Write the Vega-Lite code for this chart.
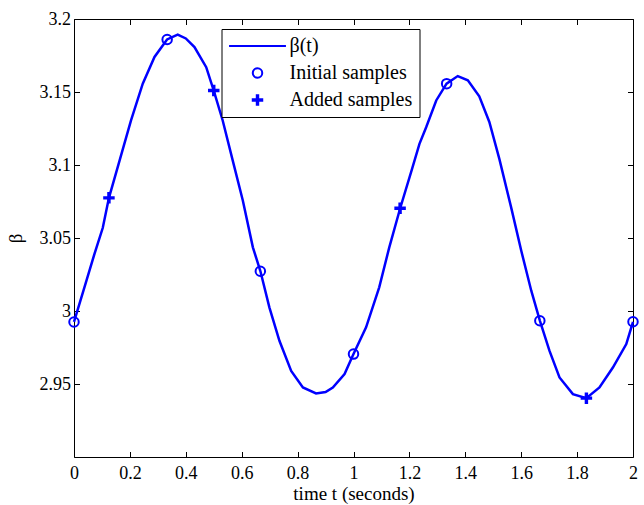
{
  "$schema": "https://vega.github.io/schema/vega-lite/v6.json",
  "width": 559,
  "height": 438,
  "autosize": {"type": "none"},
  "padding": {"left": 74, "top": 19, "right": 11, "bottom": 48},
  "background": "white",
  "config": {
    "view": {"stroke": "black", "strokeWidth": 1},
    "font": "Liberation Serif",
    "axis": {
      "domain": false,
      "grid": false,
      "tickColor": "black",
      "tickSize": -5.5,
      "tickWidth": 1,
      "labelColor": "black",
      "labelFont": "Liberation Serif",
      "labelFontSize": 18,
      "titleFont": "Liberation Serif",
      "titleFontSize": 19,
      "titleFontWeight": "normal",
      "titleColor": "black"
    },
    "legend": {
      "orient": "none",
      "legendX": 147.5,
      "legendY": 10,
      "padding": 7,
      "strokeColor": "black",
      "fillColor": "white",
      "cornerRadius": 0,
      "labelFont": "Liberation Serif",
      "labelFontSize": 20,
      "labelColor": "black",
      "symbolOffset": 19,
      "labelOffset": 22,
      "rowPadding": 7,
      "symbolStrokeWidth": 2,
      "symbolSize": 90
    }
  },
  "layer": [
    {
      "data": {
        "values": [
          {"t": 0, "beta": 2.9925},
          {"t": 0.037, "beta": 3.016},
          {"t": 0.073, "beta": 3.039},
          {"t": 0.103, "beta": 3.057},
          {"t": 0.125, "beta": 3.0775},
          {"t": 0.163, "beta": 3.103},
          {"t": 0.204, "beta": 3.1305},
          {"t": 0.246, "beta": 3.1557},
          {"t": 0.288, "beta": 3.174},
          {"t": 0.333, "beta": 3.186},
          {"t": 0.371, "beta": 3.1893},
          {"t": 0.4, "beta": 3.1867},
          {"t": 0.431, "beta": 3.1808},
          {"t": 0.473, "beta": 3.167},
          {"t": 0.5, "beta": 3.151},
          {"t": 0.532, "beta": 3.1305},
          {"t": 0.568, "beta": 3.103},
          {"t": 0.604, "beta": 3.0757},
          {"t": 0.64, "beta": 3.0436},
          {"t": 0.667, "beta": 3.0272},
          {"t": 0.699, "beta": 3.0025},
          {"t": 0.735, "beta": 2.9796},
          {"t": 0.777, "beta": 2.959},
          {"t": 0.819, "beta": 2.9476},
          {"t": 0.866, "beta": 2.9435},
          {"t": 0.9, "beta": 2.9445},
          {"t": 0.926, "beta": 2.9476},
          {"t": 0.968, "beta": 2.9568},
          {"t": 1.0, "beta": 2.9705},
          {"t": 1.045, "beta": 2.9888},
          {"t": 1.092, "beta": 3.0162},
          {"t": 1.128, "beta": 3.0436},
          {"t": 1.167, "beta": 3.0704},
          {"t": 1.209, "beta": 3.097},
          {"t": 1.236, "beta": 3.1145},
          {"t": 1.26, "beta": 3.1259},
          {"t": 1.296, "beta": 3.1442},
          {"t": 1.333, "beta": 3.1557},
          {"t": 1.373, "beta": 3.1609},
          {"t": 1.409, "beta": 3.158},
          {"t": 1.45, "beta": 3.147},
          {"t": 1.486, "beta": 3.1295},
          {"t": 1.522, "beta": 3.104},
          {"t": 1.564, "beta": 3.071},
          {"t": 1.6, "beta": 3.0414},
          {"t": 1.636, "beta": 3.0139},
          {"t": 1.667, "beta": 2.9933},
          {"t": 1.701, "beta": 2.9728},
          {"t": 1.737, "beta": 2.9545},
          {"t": 1.785, "beta": 2.9431},
          {"t": 1.833, "beta": 2.9403},
          {"t": 1.88, "beta": 2.9476},
          {"t": 1.928, "beta": 2.9613},
          {"t": 1.976, "beta": 2.9774},
          {"t": 2.0, "beta": 2.9926}
        ]
      },
      "mark": {"type": "line", "color": "#0000ff", "strokeWidth": 2.5},
      "encoding": {
        "x": {
          "field": "t",
          "type": "quantitative",
          "scale": {"domain": [0, 2], "nice": false, "zero": false},
          "axis": {
            "orient": "bottom",
            "values": [0, 0.2, 0.4, 0.6, 0.8, 1, 1.2, 1.4, 1.6, 1.8, 2],
            "format": ".1~f",
            "title": "time t (seconds)",
            "labelPadding": 13,
            "titleBaseline": "alphabetic",
            "titleY": 42.7,
            "labelFlush": false
          }
        },
        "y": {
          "field": "beta",
          "type": "quantitative",
          "scale": {"domain": [2.9, 3.2], "nice": false, "zero": false},
          "axis": {
            "orient": "left",
            "values": [2.95, 3, 3.05, 3.1, 3.15, 3.2],
            "format": ".2~f",
            "title": "β",
            "labelPadding": 9,
            "titlePadding": 14,
            "labelFlush": false
          }
        }
      }
    },
    {
      "data": {
        "values": [
          {"t": 0, "beta": 2.9925, "series": "Initial samples"},
          {"t": 0.3333, "beta": 3.186, "series": "Initial samples"},
          {"t": 0.6667, "beta": 3.0272, "series": "Initial samples"},
          {"t": 1, "beta": 2.9705, "series": "Initial samples"},
          {"t": 1.3333, "beta": 3.1557, "series": "Initial samples"},
          {"t": 1.6667, "beta": 2.9933, "series": "Initial samples"},
          {"t": 2, "beta": 2.9926, "series": "Initial samples"},
          {"t": 0.125, "beta": 3.0775, "series": "Added samples"},
          {"t": 0.5, "beta": 3.151, "series": "Added samples"},
          {"t": 1.1667, "beta": 3.0704, "series": "Added samples"},
          {"t": 1.8333, "beta": 2.9403, "series": "Added samples"}
        ]
      },
      "mark": {"type": "point", "filled": false, "color": "#0000ff", "strokeWidth": 2, "size": 90, "opacity": 1, "clip": false},
      "encoding": {
        "x": {
          "field": "t",
          "type": "quantitative",
          "scale": {"domain": [0, 2], "nice": false, "zero": false},
          "axis": {
            "orient": "top",
            "values": [0, 0.2, 0.4, 0.6, 0.8, 1, 1.2, 1.4, 1.6, 1.8, 2],
            "labels": false,
            "title": null
          }
        },
        "y": {
          "field": "beta",
          "type": "quantitative",
          "scale": {"domain": [2.9, 3.2], "nice": false, "zero": false},
          "axis": {
            "orient": "right",
            "values": [2.95, 3, 3.05, 3.1, 3.15, 3.2],
            "labels": false,
            "title": null
          }
        },
        "shape": {
          "field": "series",
          "type": "nominal",
          "scale": {
            "domain": ["β(t)", "Initial samples", "Added samples"],
            "range": ["M-6,0L6,0", "circle", "M-1,-0.15L-0.15,-0.15L-0.15,-1L0.15,-1L0.15,-0.15L1,-0.15L1,0.15L0.15,0.15L0.15,1L-0.15,1L-0.15,0.15L-1,0.15Z"]
          },
          "legend": {"title": null}
        }
      }
    }
  ],
  "resolve": {"axis": {"x": "independent", "y": "independent"}}
}
